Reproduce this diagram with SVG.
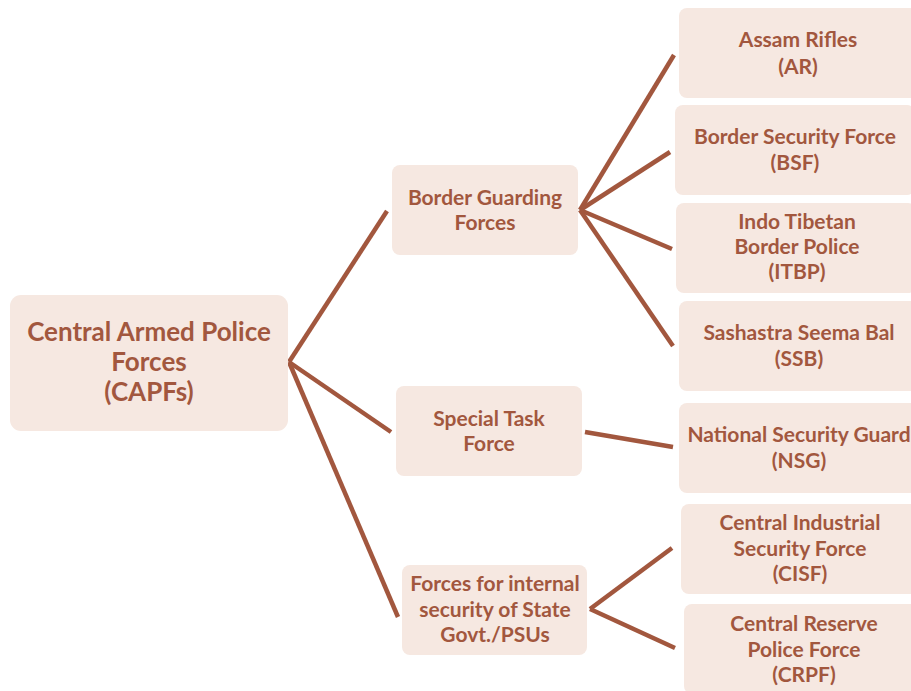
<svg xmlns="http://www.w3.org/2000/svg" width="911" height="691" viewBox="0 0 911 691">
<style>
.box{fill:#F6E8E1;}
.t{font-family:Lato,"Open Sans","Liberation Sans",sans-serif;font-weight:bold;fill:#A2573E;text-anchor:middle;font-size:21px;}
.big{font-size:26px;}
.c{stroke:#A2573E;stroke-width:4.5;fill:none;stroke-linecap:butt;}
</style>
<rect width="911" height="691" fill="#ffffff"/>
<g id="connectors">
<line class="c" x1="289" y1="362" x2="387" y2="211"/>
<line class="c" x1="289" y1="362" x2="391" y2="432"/>
<line class="c" x1="289" y1="362" x2="398" y2="617"/>
<line class="c" x1="580" y1="210" x2="674" y2="55"/>
<line class="c" x1="580" y1="210" x2="670" y2="152"/>
<line class="c" x1="580" y1="210" x2="672" y2="249"/>
<line class="c" x1="580" y1="210" x2="673" y2="346"/>
<line class="c" x1="585" y1="432" x2="673" y2="447"/>
<line class="c" x1="590" y1="609" x2="672" y2="548"/>
<line class="c" x1="590" y1="609" x2="675" y2="648"/>
</g>
<g id="capf"><rect class="box" x="10" y="295" width="278" height="136" rx="11"/>
<text class="t big" x="149" y="341">Central Armed Police</text>
<text class="t big" x="149" y="371">Forces</text>
<text class="t big" x="149" y="401">(CAPFs)</text></g>
<g id="bgf"><rect class="box" x="392" y="165" width="186" height="90" rx="8"/>
<text class="t" x="485" y="205">Border Guarding</text>
<text class="t" x="485" y="230">Forces</text></g>
<g id="stf"><rect class="box" x="396" y="386" width="186" height="90" rx="8"/>
<text class="t" x="489" y="426">Special Task</text>
<text class="t" x="489" y="451">Force</text></g>
<g id="fis"><rect class="box" x="402" y="565" width="185" height="90" rx="8"/>
<text class="t" x="495" y="591">Forces for internal</text>
<text class="t" x="495" y="617">security of State</text>
<text class="t" x="495" y="642">Govt./PSUs</text></g>
<g id="ar"><rect class="box" x="679" y="8" width="240" height="90" rx="8"/>
<text class="t" x="798" y="47">Assam Rifles</text>
<text class="t" x="798" y="74">(AR)</text></g>
<g id="bsf"><rect class="box" x="675" y="105" width="240" height="90" rx="8"/>
<text class="t" x="795" y="144">Border Security Force</text>
<text class="t" x="795" y="170">(BSF)</text></g>
<g id="itbp"><rect class="box" x="676" y="203" width="240" height="90" rx="8"/>
<text class="t" x="797" y="229">Indo Tibetan</text>
<text class="t" x="797" y="254">Border Police</text>
<text class="t" x="797" y="279">(ITBP)</text></g>
<g id="ssb"><rect class="box" x="679" y="301" width="240" height="90" rx="8"/>
<text class="t" x="799" y="340">Sashastra Seema Bal</text>
<text class="t" x="799" y="366">(SSB)</text></g>
<g id="nsg"><rect class="box" x="679" y="403" width="240" height="90" rx="8"/>
<text class="t" x="799" y="442">National Security Guard</text>
<text class="t" x="799" y="468">(NSG)</text></g>
<g id="cisf"><rect class="box" x="681" y="504" width="240" height="90" rx="8"/>
<text class="t" x="800" y="530">Central Industrial</text>
<text class="t" x="800" y="556">Security Force</text>
<text class="t" x="800" y="581">(CISF)</text></g>
<g id="crpf"><rect class="box" x="684" y="604" width="240" height="90" rx="8"/>
<text class="t" x="804" y="631">Central Reserve</text>
<text class="t" x="804" y="657">Police Force</text>
<text class="t" x="804" y="682">(CRPF)</text></g>
</svg>
